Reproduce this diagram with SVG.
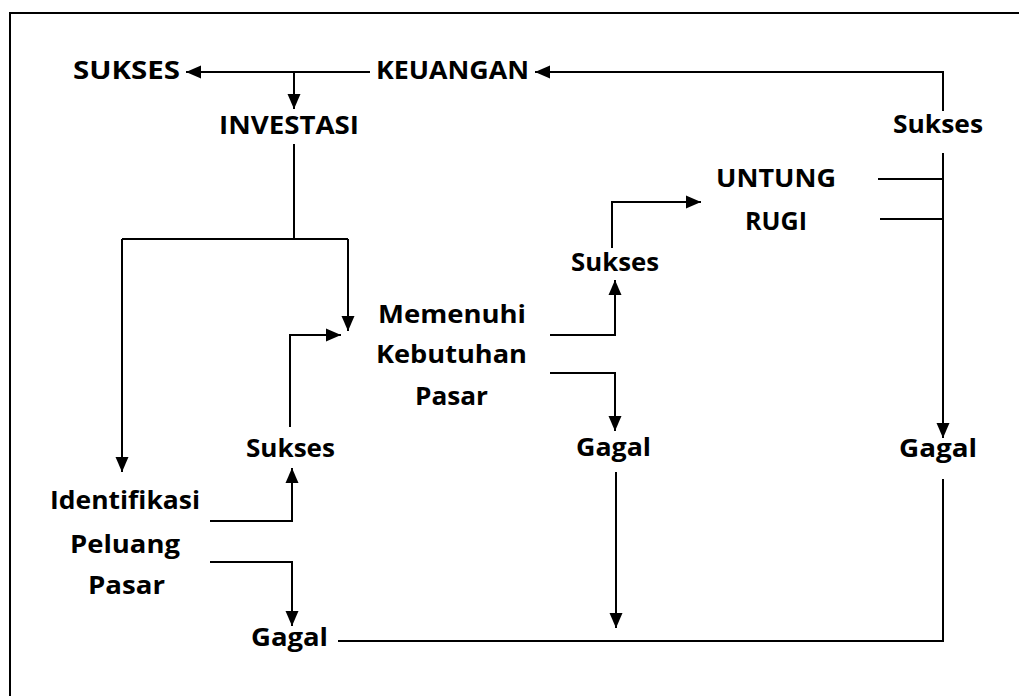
<svg xmlns="http://www.w3.org/2000/svg" width="1019" height="696" viewBox="0 0 1019 696">
<defs>
<marker id="ah" markerUnits="userSpaceOnUse" markerWidth="16" markerHeight="16" viewBox="0 0 16 16" refX="15" refY="8" orient="auto">
<path d="M0,1.5 L15,8 L0,14.5 z" fill="#000"/>
</marker>
<style>
text{font-family:"Open Sans","Liberation Sans",sans-serif;font-weight:700;font-size:25.5px;fill:#000}
.c{fill:none;stroke:#000;stroke-width:2}
.a{marker-end:url(#ah)}
</style>
</defs>
<rect x="0" y="0" width="1019" height="696" fill="#fff"/>
<rect x="10" y="13" width="1030" height="710" fill="none" stroke="#000" stroke-width="2"/>
<g id="connectors">
<path class="c a" d="M370,72 H186"/>
<path class="c a" d="M294,72 V109"/>
<path class="c a" d="M943,111 V72 H535"/>
<path class="c" d="M294,144 V239"/>
<path class="c" d="M122,239 H348"/>
<path class="c a" d="M122,239 V472"/>
<path class="c a" d="M348,239 V331"/>
<path class="c a" d="M290,427 V335 H341"/>
<path class="c a" d="M210,521 H292 V468"/>
<path class="c a" d="M210,562 H292 V626"/>
<path class="c" d="M338,641 H943 V479"/>
<path class="c a" d="M616,472 V628"/>
<path class="c a" d="M550,335 H615 V280"/>
<path class="c a" d="M550,373 H615 V431"/>
<path class="c a" d="M612,248 V202 H701"/>
<path class="c" d="M878,179 H943"/>
<path class="c" d="M880,219 H943"/>
<path class="c a" d="M943,153 V438"/>
</g>
<g id="n-sukses-top"><text x="73" y="79" textLength="107" lengthAdjust="spacingAndGlyphs">SUKSES</text></g>
<g id="n-keuangan"><text x="376" y="79" textLength="153" lengthAdjust="spacingAndGlyphs">KEUANGAN</text></g>
<g id="n-investasi"><text x="219" y="134" textLength="140" lengthAdjust="spacingAndGlyphs">INVESTASI</text></g>
<g id="n-sukses-tr"><text x="893" y="133" textLength="90" lengthAdjust="spacingAndGlyphs">Sukses</text></g>
<g id="n-untung-rugi">
<text x="716" y="187" textLength="120" lengthAdjust="spacingAndGlyphs">UNTUNG</text>
<text x="745" y="230" textLength="62" lengthAdjust="spacingAndGlyphs">RUGI</text>
</g>
<g id="n-sukses-mid"><text x="571" y="271" textLength="88" lengthAdjust="spacingAndGlyphs">Sukses</text></g>
<g id="n-memenuhi">
<text x="378" y="323" textLength="148" lengthAdjust="spacingAndGlyphs">Memenuhi</text>
<text x="376" y="363" textLength="151" lengthAdjust="spacingAndGlyphs">Kebutuhan</text>
<text x="415" y="405" textLength="73" lengthAdjust="spacingAndGlyphs">Pasar</text>
</g>
<g id="n-sukses-left"><text x="246" y="457" textLength="89" lengthAdjust="spacingAndGlyphs">Sukses</text></g>
<g id="n-gagal-mid"><text x="576" y="456" textLength="75" lengthAdjust="spacingAndGlyphs">Gagal</text></g>
<g id="n-gagal-right"><text x="899" y="457" textLength="78" lengthAdjust="spacingAndGlyphs">Gagal</text></g>
<g id="n-identifikasi">
<text x="50" y="509" textLength="150" lengthAdjust="spacingAndGlyphs">Identifikasi</text>
<text x="70" y="553" textLength="110" lengthAdjust="spacingAndGlyphs">Peluang</text>
<text x="88" y="594" textLength="77" lengthAdjust="spacingAndGlyphs">Pasar</text>
</g>
<g id="n-gagal-bottom"><text x="251" y="646" textLength="77" lengthAdjust="spacingAndGlyphs">Gagal</text></g>
</svg>
